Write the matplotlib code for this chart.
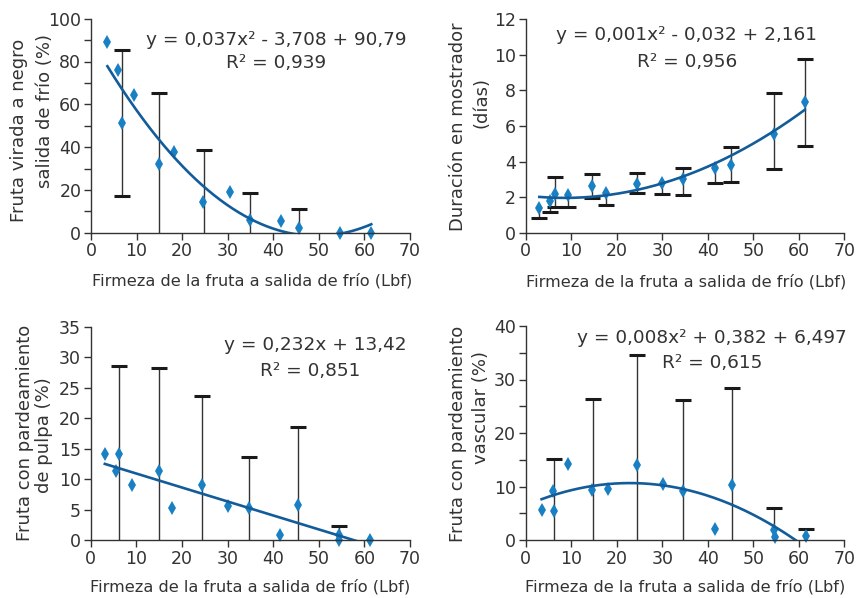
import numpy as np
import matplotlib.pyplot as plt
from matplotlib.ticker import MultipleLocator

plt.rcParams['font.family'] = ['DejaVu Sans']

# --- data ---
# top left: fruta virada a negro (%)
x_neg = [3.6, 5.9, 6.7, 9.5, 15.0, 18.3, 24.5, 30.5, 34.9, 41.8, 45.6, 54.6, 61.5]
y_neg = [89.1, 75.8, 51.1, 64.2, 32.2, 37.5, 14.2, 18.9, 5.9, 5.3, 2.0, 0.0, 0.0]
bar_x_neg = [6.7, 15.0, 24.7, 34.9, 45.6]
bar_y_neg = [51.1, 32.2, 14.2, 5.9, 2.0]
bar_sd_neg = [34.1, 33.3, 24.4, 12.6, 9.0]

# top right: duracion en mostrador (dias)
x_dur = [3.0, 5.4, 6.4, 9.3, 14.5, 17.6, 24.4, 30.0, 34.5, 41.6, 45.2, 54.5, 61.3]
y_dur = [1.37, 1.80, 2.18, 2.12, 2.63, 2.22, 2.72, 2.78, 3.00, 3.64, 3.83, 5.57, 7.37]
lo_dur = [0.56, 0.65, 0.73, 0.67, 0.70, 0.68, 0.50, 0.62, 0.88, 0.83, 0.97, 1.97, 2.49]
hi_dur = [0.0, 0.0, 0.93, 0.0, 0.65, 0.0, 0.62, 0.0, 0.62, 0.0, 1.01, 2.27, 2.40]

# bottom left: pardeamiento de pulpa (%)
x_pul = [3.1, 5.5, 6.1, 9.1, 14.9, 17.9, 24.4, 30.0, 34.6, 41.6, 45.4, 54.5, 54.5, 61.2]
y_pul = [14.1, 11.3, 14.1, 9.0, 11.4, 5.3, 9.0, 5.6, 5.25, 0.8, 5.7, 0.9, 0.0, 0.0]
bar_x_pul = [6.1, 14.9, 24.4, 34.6, 45.4, 54.5]
bar_y_pul = [14.1, 11.4, 9.0, 5.25, 5.7, 0.9]
bar_sd_pul = [14.5, 16.8, 14.6, 8.4, 12.9, 1.45]

# bottom right: pardeamiento vascular (%)
x_vas = [3.5, 6.1, 6.3, 9.4, 14.6, 18.0, 24.4, 30.1, 34.6, 41.6, 45.3, 54.6, 54.8, 61.5]
y_vas = [5.6, 9.2, 5.5, 14.2, 9.3, 9.5, 14.0, 10.4, 9.2, 2.1, 10.3, 1.9, 0.6, 0.8]
bar_x_vas = [6.3, 14.8, 24.4, 34.6, 45.3, 54.6, 61.5]
bar_y_vas = [5.5, 9.3, 14.0, 9.2, 10.3, 1.9, 0.8]
bar_sd_vas = [9.7, 17.0, 20.5, 17.0, 18.2, 4.1, 1.3]

xlabel = 'Firmeza de la fruta a salida de frío (Lbf)'

PT = '#1a80c4'
CURVE = '#135c9a'
TXT = '#333333'

fig = plt.figure(figsize=(8.58, 5.98), dpi=100)
W, H = 858, 598


def px_axes(x0, x1, y0, y1):
    # pixel box -> figure axes
    return fig.add_axes([x0 / W, 1 - y0 / H, (x1 - x0) / W, (y0 - y1) / H])


def panel(ax, x, y, deg, bx, by, blo, bhi, ymax, major, minor):
    x = np.array(x); y = np.array(y)
    bx = np.array(bx); by = np.array(by); blo = np.array(blo); bhi = np.array(bhi)
    ax.vlines(bx, by - blo, by + bhi, color='#333333', lw=1.0, zorder=1)
    top = bhi > 0
    ax.plot(bx[top], (by + bhi)[top], ls='none', marker='_', ms=11.5, mew=2.2,
            color='#1a1a1a', zorder=1)
    bot = (blo > 0) & (by - blo >= 0)
    ax.plot(bx[bot], (by - blo)[bot], ls='none', marker='_', ms=11.5, mew=2.2,
            color='#1a1a1a', zorder=1)
    ax.plot(x, y, ls='none', marker='d', ms=7.3, color=PT, mew=0, zorder=2, clip_on=False)
    coefs = np.polyfit(x, y, deg)
    xs = np.linspace(x.min(), x.max(), 300)
    ax.plot(xs, np.polyval(coefs, xs), color=CURVE, lw=1.9, zorder=3)
    ax.set_xlim(0, 70)
    ax.set_ylim(0, ymax)
    ax.xaxis.set_major_locator(MultipleLocator(10))
    ax.yaxis.set_major_locator(MultipleLocator(major))
    ax.yaxis.set_minor_locator(MultipleLocator(minor))
    for s in ['top', 'right']:
        ax.spines[s].set_visible(False)
    for s in ['left', 'bottom']:
        ax.spines[s].set_color('#333333')
        ax.spines[s].set_linewidth(1.0)
    ax.tick_params(which='both', direction='out', length=5, width=1, color='#333333',
                   labelsize=12.5, labelcolor=TXT, pad=2)


ax1 = px_axes(91, 410, 232.7, 18.7)
panel(ax1, x_neg, y_neg, 2, bar_x_neg, bar_y_neg, bar_sd_neg, bar_sd_neg, 100, 20, 10)
ax2 = px_axes(525.7, 844.3, 232.7, 19.3)
panel(ax2, x_dur, y_dur, 2, x_dur, y_dur, lo_dur, hi_dur, 12, 2, 2)
ax3 = px_axes(90.7, 410, 540, 326.7)
panel(ax3, x_pul, y_pul, 1, bar_x_pul, bar_y_pul, bar_sd_pul, bar_sd_pul, 35, 5, 5)
ax4 = px_axes(525.7, 844.3, 540, 326)
panel(ax4, x_vas, y_vas, 2, bar_x_vas, bar_y_vas, bar_sd_vas, bar_sd_vas, 40, 10, 5)

# equations
def ftext(px, py, s, size, **kw):
    fig.text(px / W, 1 - py / H, s, fontsize=size, color=TXT, ha='center', va='center', **kw)

ftext(276, 40, 'y = 0,037x² - 3,708 + 90,79', 13.3)
ftext(276, 63, 'R² = 0,939', 13.3)
ftext(686, 35, 'y = 0,001x² - 0,032 + 2,161', 13.3)
ftext(687, 61.7, 'R² = 0,956', 13.3)
ftext(315, 345, 'y = 0,232x + 13,42', 13.3)
ftext(310, 370.7, 'R² = 0,851', 13.3)
ftext(712, 338.3, 'y = 0,008x² + 0,382 + 6,497', 13.3)
ftext(712, 363.3, 'R² = 0,615', 13.3)

# x labels
for cx, cy in [(252, 281), (686, 282), (250, 587), (685, 587)]:
    ftext(cx, cy, xlabel, 11.6)

# y labels (two lines each)
ylab = [
    ('Fruta virada a negro', 19, 130), ('salida de frío (%)', 45, 111),
    ('Duración en mostrador', 458, 127), ('(días)', 482, 102),
    ('Fruta con pardeamiento', 25, 433), ('de pulpa (%)', 44, 435),
    ('Fruta con pardeamiento', 458, 434), ('vascular (%)', 481, 407),
]
for s, cx, cy in ylab:
    ftext(cx, cy, s, 13, rotation=90)

fig.savefig('out.png', dpi=100)
